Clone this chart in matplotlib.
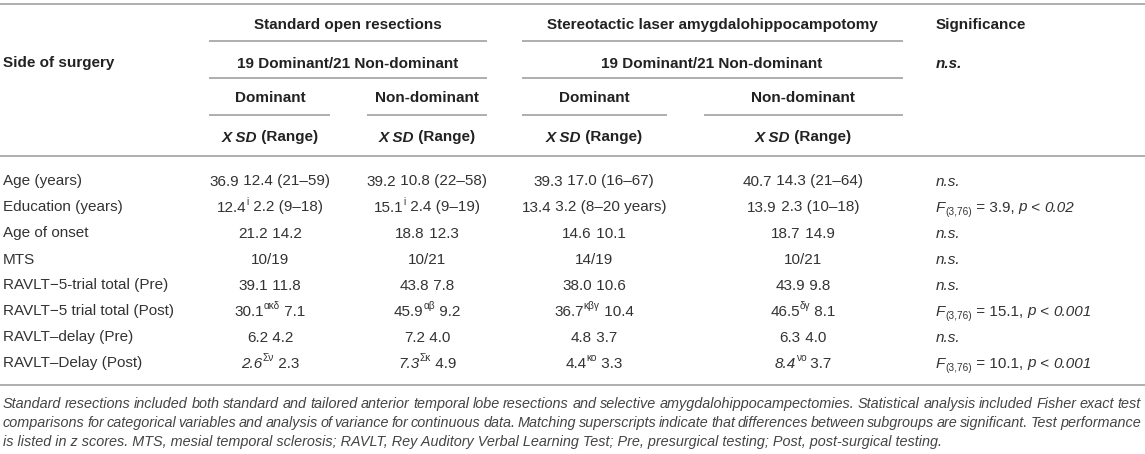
import matplotlib
matplotlib.use("Agg")
import matplotlib.pyplot as plt

plt.rcParams["font.family"] = ["Liberation Sans", "DejaVu Sans"]

# ---- table content -------------------------------------------------------
ROW_LABELS = ["Age (years)", "Education (years)", "Age of onset", "MTS",
              "RAVLT\u22125-trial total (Pre)", "RAVLT\u22125 trial total (Post)",
              "RAVLT\u2013delay (Pre)", "RAVLT\u2013Delay (Post)"]

GROUPS = ["Standard open resections", "Stereotactic laser amygdalohippocampotomy"]
GROUP_N = "19 Dominant/21 Non-dominant"
SIDES = ["Dominant", "Non-dominant"]

# mean, superscript, rest (sd / range) for each of the four columns
STD_DOM_MEAN = ["36.9", "12.4", "21.2", "10/19", "39.1", "30.1", "6.2", "2.6"]
STD_DOM_SUP = ["", "i", "", "", "", "\u03b1\u03ba\u03b4", "", "\u03a3\u03bd"]
STD_DOM_REST = ["12.4 (21\u201359)", "2.2 (9\u201318)", "14.2", "", "11.8", "7.1", "4.2", "2.3"]

STD_NON_MEAN = ["39.2", "15.1", "18.8", "10/21", "43.8", "45.9", "7.2", "7.3"]
STD_NON_SUP = ["", "i", "", "", "", "\u03b1\u03b2", "", "\u03a3\u03ba"]
STD_NON_REST = ["10.8 (22\u201358)", "2.4 (9\u201319)", "12.3", "", "7.8", "9.2", "4.0", "4.9"]

SLA_DOM_MEAN = ["39.3", "13.4", "14.6", "14/19", "38.0", "36.7", "4.8", "4.4"]
SLA_DOM_SUP = ["", "", "", "", "", "\u03ba\u03b2\u03b3", "", "\u03ba\u03bf"]
SLA_DOM_REST = ["17.0 (16\u201367)", "3.2 (8\u201320 years)", "10.1", "", "10.6", "10.4", "3.7", "3.3"]

SLA_NON_MEAN = ["40.7", "13.9", "18.7", "10/21", "43.9", "46.5", "6.3", "8.4"]
SLA_NON_SUP = ["", "", "", "", "", "\u03b4\u03b3", "", "\u03bd\u03bf"]
SLA_NON_REST = ["14.3 (21\u201364)", "2.3 (10\u201318)", "14.9", "", "9.8", "8.1", "4.0", "3.7"]

# means printed in italics (last row)
ITALIC_MEAN = [[7], [7], [], [7]]

SIG_F = [None, "3.9", None, None, None, "15.1", None, "10.1"]
SIG_P = [None, "0.02", None, None, None, "0.001", None, "0.001"]
SIG_DF = "(3,76)"

NOTE = ("Standard resections included both standard and tailored anterior temporal lobe resections "
        "and selective amygdalohippocampectomies. Statistical analysis included Fisher exact test|"
        "comparisons for categorical variables and analysis of variance for continuous data. "
        "Matching superscripts indicate that differences between subgroups are significant. Test performance|"
        "is listed in z scores. MTS, mesial temporal sclerosis; RAVLT, Rey Auditory Verbal Learning Test; "
        "Pre, presurgical testing; Post, post-surgical testing.")

# ---- layout (pixels) -----------------------------------------------------
W, H = 1145, 454
COL_X = [270, 427, 594, 803]
GROUP_X = [348, 712]
GROUP_SPAN = [(209, 487), (522, 903)]
SIDE_SPAN = [(209, 330), (367, 487), (522, 667), (704, 903)]
SIG_X = 936
ROW_Y0, ROW_DY = 180, 26
FS = 11
INK = "#222222"
BODY = "#333333"
RULE = "#a8a8a8"

fig = plt.figure(figsize=(W / 100, H / 100), dpi=100)
ax = fig.add_axes([0, 0, 1, 1])
ax.set_xlim(0, W)
ax.set_ylim(H, 0)
ax.axis("off")
R = fig.canvas.get_renderer()

KIND = {"rm": {}, "it": {"style": "italic"}, "bf": {"weight": "bold"},
        "bfit": {"weight": "bold", "style": "italic"}, "sup": {}, "sub": {}}
PX = 100 / 72


def seg_kw(kind, size):
    kw = dict(KIND[kind])
    kw["fontsize"] = size * 0.66 if kind in ("sup", "sub") else size
    return kw


def seg_width(s, kw):
    # measure with sentinels so spaces and bearings are counted
    a = ax.text(0, 0, "|" + s + "|", **kw)
    b = ax.text(0, 0, "||", **kw)
    w = a.get_window_extent(R).width - b.get_window_extent(R).width
    a.remove()
    b.remove()
    return w


def rich(x, y, parts, ha="left", size=FS, color=BODY):
    parts = [(s, k) for s, k in parts if s]
    kws = [seg_kw(k, size) for _, k in parts]
    ws = [seg_width(s, kw) for (s, _), kw in zip(parts, kws)]
    x0 = x - sum(ws) / 2 if ha == "center" else x
    base = y + 0.36 * size * PX
    for (s, k), kw, w in zip(parts, kws, ws):
        dy = {"sup": -0.40, "sub": 0.22}.get(k, 0) * size * PX
        ax.text(x0, base + dy, s, ha="left", va="baseline", color=color, **kw)
        x0 += w


def hline(y, x0=0, x1=W):
    ax.plot([x0, x1], [y, y], color=RULE, lw=1.3, solid_capstyle="butt")


# ---- header --------------------------------------------------------------
hline(4)
for g, (gx, (a, b)) in enumerate(zip(GROUP_X, GROUP_SPAN)):
    rich(gx, 23, [(GROUPS[g], "bf")], ha="center", color=INK)
    hline(41, a, b)
    rich(gx, 62, [(GROUP_N, "bf")], ha="center", color=INK)
    hline(78, a, b)
rich(SIG_X, 23, [("Significance", "bf")], color=INK)
rich(3, 62, [("Side of surgery", "bf")], color=INK)
rich(SIG_X, 62, [("n.s.", "bfit")], color=INK)
for i, (cx, (a, b)) in enumerate(zip(COL_X, SIDE_SPAN)):
    rich(cx, 97, [(SIDES[i % 2], "bf")], ha="center", color=INK)
    hline(115, a, b)
    rich(cx, 136, [("X SD", "bfit"), (" (Range)", "bf")], ha="center", color=INK)
hline(156)

# ---- body ----------------------------------------------------------------
columns = [(STD_DOM_MEAN, STD_DOM_SUP, STD_DOM_REST),
           (STD_NON_MEAN, STD_NON_SUP, STD_NON_REST),
           (SLA_DOM_MEAN, SLA_DOM_SUP, SLA_DOM_REST),
           (SLA_NON_MEAN, SLA_NON_SUP, SLA_NON_REST)]
for r, label in enumerate(ROW_LABELS):
    y = ROW_Y0 + r * ROW_DY
    rich(3, y, [(label, "rm")])
    for c, (means, sups, rests) in enumerate(columns):
        rest = (" " + rests[r]) if rests[r] else ""
        mk = "it" if r in ITALIC_MEAN[c] else "rm"
        rich(COL_X[c], y, [(means[r], mk), (sups[r], "sup"), (rest, "rm")], ha="center")
    if SIG_F[r] is None:
        rich(SIG_X, y, [("n.s.", "it")])
    else:
        rich(SIG_X, y, [("F", "it"), (SIG_DF, "sub"), (" = " + SIG_F[r] + ", ", "rm"),
                        ("p", "it"), (" < ", "rm"), (SIG_P[r], "it")])
hline(385)

# ---- footnote (first two lines justified) ---------------------------------
note_lines = NOTE.split("|")
fkw = dict(fontsize=10, style="italic")
# size so that the opening words span about 378 px, as in the source
fkw["fontsize"] = 10 * 378 / seg_width("Standard resections included both standard and tailored an", fkw)
for i, line in enumerate(note_lines):
    y = 403 + i * 19 + 0.36 * fkw["fontsize"] * PX
    if i < 2:
        words = line.split(" ")
        ws = [seg_width(w, fkw) for w in words]
        gap = (1141 - 3 - sum(ws)) / (len(words) - 1)
        x = 3
        for w, wd in zip(words, ws):
            ax.text(x, y, w, va="baseline", color="#444444", **fkw)
            x += wd + gap
    else:
        ax.text(3, y, line, va="baseline", color="#444444", **fkw)

fig.savefig("out.png", dpi=100)
